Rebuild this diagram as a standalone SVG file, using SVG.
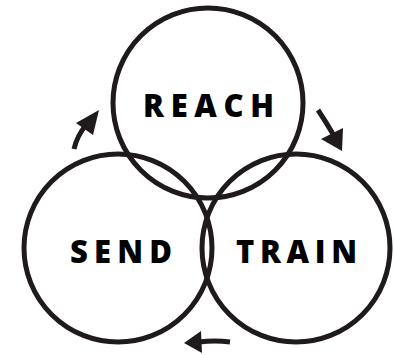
<svg xmlns="http://www.w3.org/2000/svg" width="394" height="355" viewBox="0 0 394 355">
<style>
.c{fill:none;stroke:#1f1a1b;stroke-width:5}
.t{font-family:"Open Sans","DejaVu Sans",sans-serif;font-weight:800;font-size:31px;fill:#000}
.a{fill:none;stroke:#1f1a1b;stroke-width:5}
.h{fill:#1f1a1b}
</style>
<rect width="394" height="355" fill="#fff"/>
<g id="reach"><circle class="c" cx="208" cy="103" r="95"/><text class="t" x="143" y="117" textLength="131" lengthAdjust="spacing">REACH</text></g>
<g id="send"><circle class="c" cx="118" cy="248" r="94"/><text class="t" x="70" y="263" textLength="102" lengthAdjust="spacing">SEND</text></g>
<g id="train"><circle class="c" cx="296" cy="248" r="94"/><text class="t" x="236" y="263" textLength="121" lengthAdjust="spacing">TRAIN</text></g>
<g id="connectors">
<path class="a" d="M74,149 Q77,136 86,125"/><polygon class="h" points="76,123 99,110 93,135"/>
<path class="a" d="M318,110 Q326,122 333,134"/><polygon class="h" points="321,139 343,128 342,151"/>
<path class="a" d="M230,342 Q215,340 199,342"/><polygon class="h" points="201,331 184,343 202,353"/>
</g>
</svg>
